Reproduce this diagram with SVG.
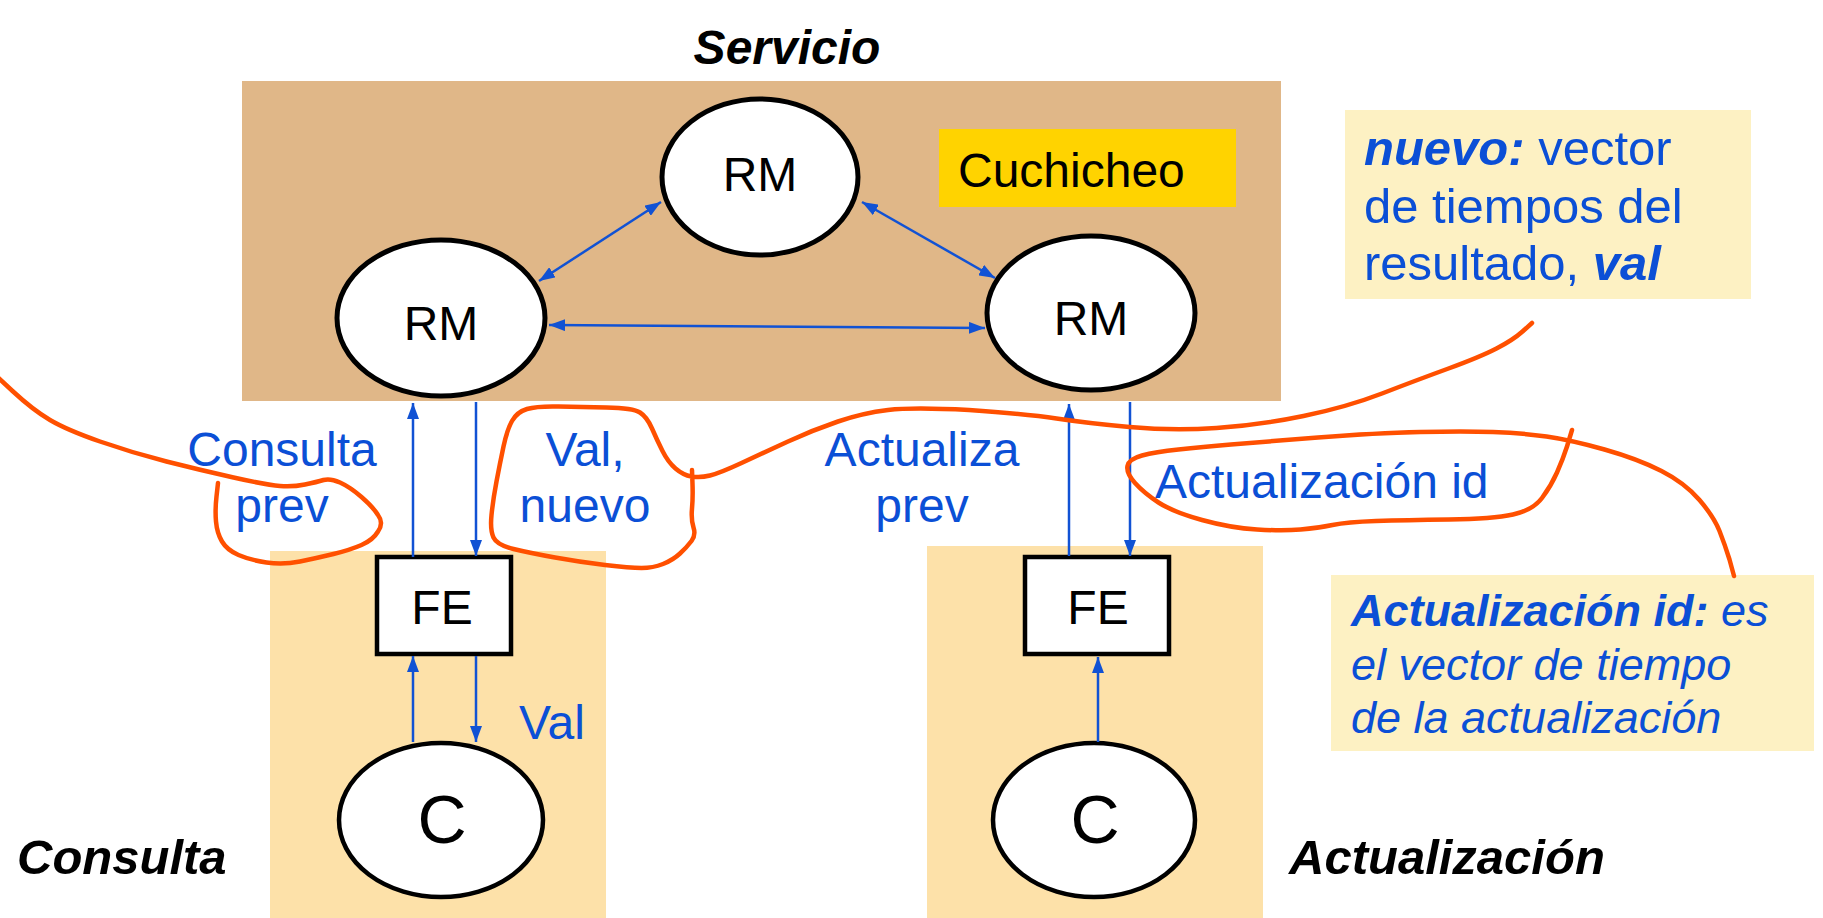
<svg xmlns="http://www.w3.org/2000/svg" width="1823" height="918" viewBox="0 0 1823 918">
  <style>
    .lbl { font-family: "Liberation Sans", Arial, sans-serif; font-size: 48px; }
    .big { font-size: 68px; }
    .n49 { font-size: 49px; }
    .n45 { font-size: 45px; font-style: italic; }
    .blk { fill: #000; }
    .blue { fill: #0B4FD6; }
    .title { font-weight: bold; font-style: italic; }
    .node { fill: #fff; stroke: #000; stroke-width: 5; }
    .thin { stroke-width: 4.5; }
    .conn { stroke: #1152D4; stroke-width: 2.5; fill: none; }
    .ink { stroke: #FF5000; stroke-width: 4.5; fill: none; stroke-linecap: round; stroke-linejoin: round; }
  </style>
  <defs>
    <marker id="tip" markerUnits="userSpaceOnUse" markerWidth="16" markerHeight="12" viewBox="0 0 16 12" refX="16" refY="6" orient="auto-start-reverse">
      <path d="M0,0 L16,6 L0,12 z" fill="#1152D4"/>
    </marker>
  </defs>

  <rect width="1823" height="918" fill="#fff"/>

  <!-- areas -->
  <g id="servicio">
    <rect x="242" y="81" width="1039" height="320" fill="#E0B788"/>
    <text class="lbl blk title" x="787" y="64" text-anchor="middle">Servicio</text>
  </g>
  <g id="zona-consulta">
    <rect x="270" y="551" width="336" height="367" fill="#FDE1A9"/>
    <text class="lbl n49 blk title" x="17" y="874">Consulta</text>
  </g>
  <g id="zona-actualizacion">
    <rect x="927" y="546" width="336" height="372" fill="#FDE1A9"/>
    <text class="lbl n49 blk title" x="1289" y="874">Actualización</text>
  </g>

  <g id="cuchicheo">
    <rect x="939" y="129" width="297" height="78" fill="#FFD300"/>
    <text class="lbl blk" x="958" y="187">Cuchicheo</text>
  </g>

  <!-- notes -->
  <g id="nota-nuevo">
    <rect x="1345" y="110" width="406" height="189" fill="#FDF1C3"/>
    <text class="lbl n49 blue" x="1364" y="165"><tspan class="title">nuevo:</tspan> vector</text>
    <text class="lbl n49 blue" x="1364" y="223">de tiempos del</text>
    <text class="lbl n49 blue" x="1364" y="280">resultado, <tspan class="title">val</tspan></text>
  </g>
  <g id="nota-id">
    <rect x="1331" y="575" width="483" height="176" fill="#FDF1C3"/>
    <text class="lbl n45 blue" x="1351" y="626"><tspan font-weight="bold">Actualización id:</tspan> es</text>
    <text class="lbl n45 blue" x="1351" y="680">el vector de tiempo</text>
    <text class="lbl n45 blue" x="1351" y="733">de la actualización</text>
  </g>

  <!-- replica managers -->
  <g id="rm-top">
    <ellipse class="node" cx="760" cy="177" rx="98" ry="78"/>
    <text class="lbl blk" x="760" y="191" text-anchor="middle">RM</text>
  </g>
  <g id="rm-left">
    <ellipse class="node" cx="441" cy="318" rx="104" ry="78"/>
    <text class="lbl blk" x="441" y="340" text-anchor="middle">RM</text>
  </g>
  <g id="rm-right">
    <ellipse class="node" cx="1091" cy="313" rx="104" ry="77"/>
    <text class="lbl blk" x="1091" y="335" text-anchor="middle">RM</text>
  </g>

  <!-- front ends -->
  <g id="fe-consulta">
    <rect class="node thin" x="377" y="557" width="134" height="97"/>
    <text class="lbl blk" x="442" y="624" text-anchor="middle">FE</text>
  </g>
  <g id="fe-actualizacion">
    <rect class="node thin" x="1025" y="557" width="144" height="97"/>
    <text class="lbl blk" x="1098" y="624" text-anchor="middle">FE</text>
  </g>

  <!-- clients -->
  <g id="c-consulta">
    <ellipse class="node thin" cx="441" cy="820" rx="102" ry="77"/>
    <text class="lbl big blk" x="442" y="843" text-anchor="middle">C</text>
  </g>
  <g id="c-actualizacion">
    <ellipse class="node thin" cx="1094" cy="820" rx="101" ry="77"/>
    <text class="lbl big blk" x="1095" y="843" text-anchor="middle">C</text>
  </g>

  <!-- connectors -->
  <g id="connectors">
    <line class="conn" x1="661" y1="202" x2="539" y2="281" marker-start="url(#tip)" marker-end="url(#tip)"/>
    <line class="conn" x1="862" y1="202" x2="995" y2="278" marker-start="url(#tip)" marker-end="url(#tip)"/>
    <line class="conn" x1="549" y1="325" x2="985" y2="328" stroke-width="3.2" marker-start="url(#tip)" marker-end="url(#tip)"/>
    <line class="conn" x1="413" y1="557" x2="413" y2="403" marker-end="url(#tip)"/>
    <line class="conn" x1="476" y1="402" x2="476" y2="556" marker-end="url(#tip)"/>
    <line class="conn" x1="1069" y1="556" x2="1069" y2="404" marker-end="url(#tip)"/>
    <line class="conn" x1="1130" y1="402" x2="1130" y2="556" marker-end="url(#tip)"/>
    <line class="conn" x1="413" y1="742" x2="413" y2="656" marker-end="url(#tip)"/>
    <line class="conn" x1="476" y1="656" x2="476" y2="742" marker-end="url(#tip)"/>
    <line class="conn" x1="1098" y1="742" x2="1098" y2="657" marker-end="url(#tip)"/>
  </g>

  <!-- message labels -->
  <g id="labels">
    <text class="lbl blue" x="282" y="466" text-anchor="middle">Consulta</text>
    <text class="lbl blue" x="282" y="522" text-anchor="middle">prev</text>
    <text class="lbl blue" x="585" y="466" text-anchor="middle">Val,</text>
    <text class="lbl blue" x="585" y="522" text-anchor="middle">nuevo</text>
    <text class="lbl blue" x="922" y="466" text-anchor="middle">Actualiza</text>
    <text class="lbl blue" x="922" y="522" text-anchor="middle">prev</text>
    <text class="lbl blue" x="1155" y="498">Actualización id</text>
    <text class="lbl blue" x="519" y="739">Val</text>
  </g>

  <!-- hand-drawn annotations -->
  <g id="annotations">
    <path class="ink" d="M-8,372 L12.5,391 Q33,410 50,420 Q67,430 100,441.5 Q133,453 166.5,461.5 Q200,470 233.5,477.5 Q267,485 280,486 Q293,487 305,484.5 Q317,482 323.5,480 Q330,478 340,482.5 Q350,487 361.5,497 Q373,507 378,515 Q384,523 378,531.5 Q373,540 361.5,545 Q350,550 333.5,554 Q317,558 300,561.5 Q283,565 266.5,562.5 Q250,560 238.5,555 Q227,550 222,541.5 Q217,533 216,521.5 Q215,510 216.5,496.5 L218,483"/>
    <path class="ink" d="M692,470 L692.5,484 Q693,497 692,508.5 Q691,520 693.5,527.5 Q696,535 691.5,541 Q687,547 680,553.5 Q673,560 663,564 Q653,568 641.5,568 Q630,568 605,565 Q580,562 555,557.5 Q530,553 513.5,549 Q497,545 493.5,537.5 Q490,530 491.5,515 Q493,500 496.5,481.5 Q500,463 503.5,446.5 Q507,430 512,421 Q517,412 527,409 Q537,406 558.5,406.5 Q580,407 606.5,407.5 Q633,408 640,412.5 Q647,417 652,428.5 Q657,440 662.5,451 Q668,462 675.5,468.5 Q683,475 691.5,476.5 Q700,478 710,475.5 Q720,473 741.5,463 Q763,453 788,441.5 Q813,430 838,421.5 Q863,413 888,410 Q913,407 969,410 Q1027,414 1056.5,418.5 Q1086,423 1129.5,427 Q1173,431 1216.5,428 Q1260,425 1303.5,416 Q1347,407 1382,393.5 Q1417,380 1448.5,368.5 Q1480,357 1496.5,348.5 Q1513,340 1522.5,331.5 L1532,323"/>
    <path class="ink" d="M1572,430 L1567,446.5 Q1563,459 1557,472.5 Q1551,486 1542,498 Q1533,510 1513,514.5 Q1493,519 1449,519.5 Q1405,520 1376,521 Q1347,522 1332.5,525 Q1318,528 1300.5,529.5 Q1283,531 1257,529.5 Q1231,528 1202,520 Q1173,512 1158.5,502.5 Q1144,493 1135,483 Q1126,473 1127.5,466 Q1129,459 1142,455.5 Q1155,452 1178.5,449.5 Q1202,447 1231,444.5 Q1260,442 1318,437.5 Q1376,433 1420,432 Q1464,431 1493,432 Q1522,433 1546.5,436.5 Q1571,440 1604.5,449.5 Q1638,459 1661.5,471 Q1685,483 1699.5,500 Q1714,517 1719.5,531 Q1725,545 1729.5,559.5 L1734,576"/>
  </g>
</svg>
